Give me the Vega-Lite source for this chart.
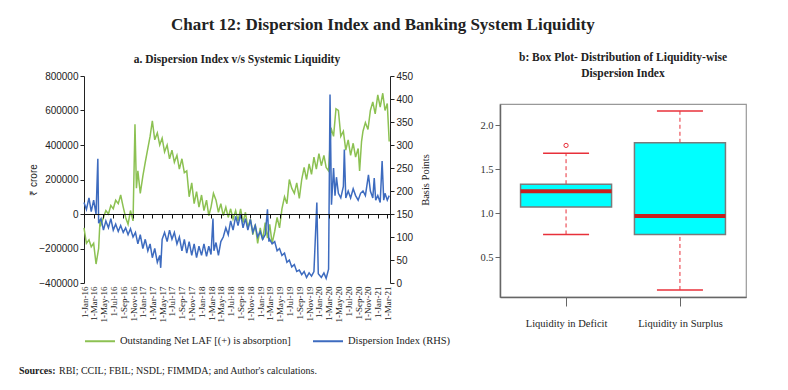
{
  "$schema": "https://vega.github.io/schema/vega-lite/v6.json",
  "background": "white",
  "padding": {"left": 19, "top": 16, "right": 8, "bottom": 4},
  "title": {"text": "Chart 12: Dispersion Index and Banking System Liquidity", "font": "Liberation Serif", "fontSize": 17, "fontWeight": "bold", "color": "#222", "offset": 18, "anchor": "middle", "frame": "bounds"},
  "datasets": {
    "laf": [
      {"d":"2016-01-01","v":-80000},{"d":"2016-01-16","v":-170000},{"d":"2016-02-01","v":-150000},{"d":"2016-02-15","v":-190000},
      {"d":"2016-03-01","v":-170000},{"d":"2016-03-16","v":-290000},{"d":"2016-04-01","v":-200000},{"d":"2016-04-10","v":-30000},
      {"d":"2016-04-16","v":-60000},{"d":"2016-05-01","v":-20000},{"d":"2016-05-16","v":20000},{"d":"2016-06-01","v":0},
      {"d":"2016-06-16","v":50000},{"d":"2016-07-01","v":30000},{"d":"2016-07-16","v":80000},{"d":"2016-08-01","v":60000},
      {"d":"2016-08-16","v":110000},{"d":"2016-09-01","v":40000},{"d":"2016-09-16","v":-20000},{"d":"2016-10-01","v":-60000},
      {"d":"2016-10-16","v":20000},{"d":"2016-11-01","v":-40000},{"d":"2016-11-13","v":520000},{"d":"2016-11-22","v":150000},
      {"d":"2016-12-01","v":250000},{"d":"2016-12-16","v":120000},{"d":"2017-01-01","v":220000},{"d":"2017-01-16","v":300000},
      {"d":"2017-02-01","v":380000},{"d":"2017-02-15","v":450000},{"d":"2017-03-01","v":540000},{"d":"2017-03-16","v":430000},
      {"d":"2017-04-01","v":470000},{"d":"2017-04-16","v":400000},{"d":"2017-05-01","v":440000},{"d":"2017-05-16","v":360000},
      {"d":"2017-06-01","v":400000},{"d":"2017-06-16","v":320000},{"d":"2017-07-01","v":370000},{"d":"2017-07-16","v":300000},
      {"d":"2017-08-01","v":340000},{"d":"2017-08-16","v":260000},{"d":"2017-09-01","v":320000},{"d":"2017-09-16","v":240000},
      {"d":"2017-10-01","v":250000},{"d":"2017-10-16","v":100000},{"d":"2017-11-01","v":180000},{"d":"2017-11-16","v":60000},
      {"d":"2017-12-01","v":130000},{"d":"2017-12-16","v":40000},{"d":"2018-01-01","v":110000},{"d":"2018-01-16","v":20000},
      {"d":"2018-02-01","v":80000},{"d":"2018-02-15","v":-10000},{"d":"2018-03-01","v":40000},{"d":"2018-03-16","v":120000},
      {"d":"2018-04-01","v":80000},{"d":"2018-04-16","v":10000},{"d":"2018-05-01","v":60000},{"d":"2018-05-16","v":-10000},
      {"d":"2018-06-01","v":40000},{"d":"2018-06-16","v":-20000},{"d":"2018-07-01","v":30000},{"d":"2018-07-16","v":-30000},
      {"d":"2018-08-01","v":20000},{"d":"2018-08-16","v":-40000},{"d":"2018-09-01","v":30000},{"d":"2018-09-16","v":-50000},
      {"d":"2018-10-01","v":10000},{"d":"2018-10-16","v":-80000},{"d":"2018-11-01","v":-30000},{"d":"2018-11-16","v":-120000},
      {"d":"2018-12-01","v":-60000},{"d":"2018-12-16","v":-170000},{"d":"2019-01-01","v":-80000},{"d":"2019-01-16","v":-150000},
      {"d":"2019-02-01","v":-50000},{"d":"2019-02-15","v":-140000},{"d":"2019-03-01","v":-60000},{"d":"2019-03-16","v":-170000},
      {"d":"2019-04-01","v":-100000},{"d":"2019-04-16","v":-20000},{"d":"2019-05-01","v":-80000},{"d":"2019-05-16","v":30000},
      {"d":"2019-06-01","v":100000},{"d":"2019-06-16","v":60000},{"d":"2019-07-01","v":200000},{"d":"2019-07-16","v":150000},
      {"d":"2019-08-01","v":120000},{"d":"2019-08-16","v":180000},{"d":"2019-09-01","v":90000},{"d":"2019-09-16","v":200000},
      {"d":"2019-10-01","v":270000},{"d":"2019-10-16","v":200000},{"d":"2019-11-01","v":290000},{"d":"2019-11-16","v":230000},
      {"d":"2019-12-01","v":330000},{"d":"2019-12-16","v":260000},{"d":"2020-01-01","v":350000},{"d":"2020-01-16","v":280000},
      {"d":"2020-02-01","v":340000},{"d":"2020-02-15","v":270000},{"d":"2020-03-01","v":250000},{"d":"2020-03-16","v":500000},
      {"d":"2020-04-01","v":450000},{"d":"2020-04-16","v":610000},{"d":"2020-05-01","v":600000},{"d":"2020-05-16","v":450000},
      {"d":"2020-06-01","v":480000},{"d":"2020-06-16","v":370000},{"d":"2020-07-01","v":430000},{"d":"2020-07-16","v":340000},
      {"d":"2020-08-01","v":410000},{"d":"2020-08-16","v":330000},{"d":"2020-09-01","v":380000},{"d":"2020-09-10","v":250000},
      {"d":"2020-09-22","v":420000},{"d":"2020-10-01","v":480000},{"d":"2020-10-16","v":530000},{"d":"2020-11-01","v":490000},
      {"d":"2020-11-16","v":600000},{"d":"2020-12-01","v":650000},{"d":"2020-12-16","v":580000},{"d":"2021-01-01","v":690000},
      {"d":"2021-01-16","v":620000},{"d":"2021-02-01","v":700000},{"d":"2021-02-15","v":600000},{"d":"2021-03-01","v":640000},
      {"d":"2021-03-13","v":420000}
    ],
    "di": [
      {"d":"2016-01-01","v":175},{"d":"2016-01-16","v":160},{"d":"2016-02-01","v":185},{"d":"2016-02-15","v":155},
      {"d":"2016-03-01","v":180},{"d":"2016-03-16","v":150},{"d":"2016-03-27","v":270},{"d":"2016-04-01","v":130},
      {"d":"2016-04-16","v":140},{"d":"2016-05-01","v":115},{"d":"2016-05-16","v":135},{"d":"2016-06-01","v":120},
      {"d":"2016-06-16","v":140},{"d":"2016-07-01","v":115},{"d":"2016-07-16","v":128},{"d":"2016-08-01","v":112},
      {"d":"2016-08-16","v":125},{"d":"2016-09-01","v":110},{"d":"2016-09-16","v":120},{"d":"2016-10-01","v":105},
      {"d":"2016-10-16","v":118},{"d":"2016-11-01","v":100},{"d":"2016-11-16","v":110},{"d":"2016-12-01","v":85},
      {"d":"2016-12-16","v":105},{"d":"2017-01-01","v":75},{"d":"2017-01-16","v":95},{"d":"2017-02-01","v":70},
      {"d":"2017-02-15","v":85},{"d":"2017-03-01","v":55},{"d":"2017-03-16","v":75},{"d":"2017-04-01","v":45},
      {"d":"2017-04-16","v":60},{"d":"2017-04-22","v":33},{"d":"2017-05-01","v":95},{"d":"2017-05-16","v":110},
      {"d":"2017-06-01","v":90},{"d":"2017-06-16","v":115},{"d":"2017-07-01","v":95},{"d":"2017-07-16","v":110},
      {"d":"2017-08-01","v":85},{"d":"2017-08-16","v":100},{"d":"2017-09-01","v":70},{"d":"2017-09-16","v":95},
      {"d":"2017-10-01","v":65},{"d":"2017-10-16","v":90},{"d":"2017-11-01","v":60},{"d":"2017-11-16","v":85},
      {"d":"2017-12-01","v":55},{"d":"2017-12-16","v":80},{"d":"2018-01-01","v":60},{"d":"2018-01-16","v":85},
      {"d":"2018-02-01","v":58},{"d":"2018-02-15","v":80},{"d":"2018-03-01","v":62},{"d":"2018-03-13","v":140},
      {"d":"2018-03-19","v":70},{"d":"2018-04-01","v":88},{"d":"2018-04-16","v":60},{"d":"2018-05-01","v":90},
      {"d":"2018-05-16","v":100},{"d":"2018-06-01","v":120},{"d":"2018-06-16","v":105},{"d":"2018-07-01","v":135},
      {"d":"2018-07-16","v":115},{"d":"2018-08-01","v":145},{"d":"2018-08-16","v":125},{"d":"2018-09-01","v":150},
      {"d":"2018-09-16","v":120},{"d":"2018-10-01","v":140},{"d":"2018-10-16","v":115},{"d":"2018-11-01","v":138},
      {"d":"2018-11-16","v":110},{"d":"2018-12-01","v":125},{"d":"2018-12-16","v":100},{"d":"2019-01-01","v":112},
      {"d":"2019-01-16","v":95},{"d":"2019-02-01","v":105},{"d":"2019-02-15","v":160},{"d":"2019-02-24","v":90},
      {"d":"2019-03-01","v":95},{"d":"2019-03-16","v":85},{"d":"2019-04-01","v":90},{"d":"2019-04-16","v":70},
      {"d":"2019-05-01","v":75},{"d":"2019-05-16","v":60},{"d":"2019-06-01","v":65},{"d":"2019-06-16","v":45},
      {"d":"2019-07-01","v":50},{"d":"2019-07-16","v":35},{"d":"2019-08-01","v":40},{"d":"2019-08-16","v":25},
      {"d":"2019-09-01","v":28},{"d":"2019-09-16","v":18},{"d":"2019-10-01","v":25},{"d":"2019-10-16","v":12},
      {"d":"2019-11-01","v":22},{"d":"2019-11-16","v":15},{"d":"2019-12-01","v":25},{"d":"2019-12-19","v":175},
      {"d":"2019-12-28","v":20},{"d":"2020-01-16","v":12},{"d":"2020-02-01","v":22},{"d":"2020-02-15","v":10},
      {"d":"2020-03-01","v":30},{"d":"2020-03-10","v":410},{"d":"2020-03-19","v":170},{"d":"2020-04-01","v":250},
      {"d":"2020-04-10","v":190},{"d":"2020-04-19","v":230},{"d":"2020-05-01","v":195},{"d":"2020-05-16","v":185},
      {"d":"2020-06-01","v":210},{"d":"2020-06-07","v":290},{"d":"2020-06-16","v":185},{"d":"2020-07-01","v":200},
      {"d":"2020-07-16","v":185},{"d":"2020-08-01","v":205},{"d":"2020-08-16","v":190},{"d":"2020-09-01","v":180},
      {"d":"2020-09-16","v":195},{"d":"2020-10-01","v":200},{"d":"2020-10-16","v":190},{"d":"2020-11-04","v":235},
      {"d":"2020-11-16","v":200},{"d":"2020-12-01","v":185},{"d":"2020-12-10","v":228},{"d":"2020-12-19","v":180},
      {"d":"2021-01-01","v":190},{"d":"2021-01-16","v":175},{"d":"2021-01-28","v":265},{"d":"2021-02-07","v":180},
      {"d":"2021-02-15","v":195},{"d":"2021-03-01","v":180},{"d":"2021-03-13","v":190}
    ],
    "box": [
      {"cat":"Liquidity in Deficit","lo":0.76,"q1":1.07,"med":1.25,"q3":1.33,"hi":1.68,"out":1.77},
      {"cat":"Liquidity in Surplus","lo":0.13,"q1":0.76,"med":0.97,"q3":1.80,"hi":2.16,"out":null}
    ],
    "src": [{"k":1}]
  },
  "spacing": 19,
  "resolve": {"scale": {"color": "independent"}, "legend": {"color": "independent"}},
  "vconcat": [
    {
      "spacing": 28,
      "resolve": {"scale": {"color": "independent"}, "legend": {"color": "independent"}},
      "hconcat": [
        {
          "width": 306,
          "height": 207,
          "title": {"text": "a. Dispersion Index v/s Systemic Liquidity", "font": "Liberation Serif", "fontSize": 11.5, "fontWeight": "bold", "color": "#222", "offset": 6},
          "layer": [
            {
              "data": {"name": "laf"},
              "mark": {"type": "line", "strokeWidth": 1.5, "invalid": "filter"},
              "encoding": {
                "x": {"field": "d", "type": "temporal",
                  "scale": {"domain": [{"year": 2016, "month": 1, "date": 1}, {"year": 2021, "month": 3, "date": 18}], "nice": false},
                  "axis": {"orient": "bottom", "title": null, "domain": false, "ticks": false, "grid": false, "labelAngle": 270, "format": "%-d-%b-%y", "tickCount": {"interval": "month", "step": 2}, "labelFont": "Liberation Serif", "labelFontSize": 9, "labelColor": "#222", "labelPadding": 3, "labelOverlap": false, "labelBound": false, "labelFlush": false}},
                "y": {"field": "v", "type": "quantitative",
                  "scale": {"domain": [-400000, 800000], "nice": false, "zero": false},
                  "axis": {"orient": "left", "values": [-400000, -200000, 0, 200000, 400000, 600000, 800000], "format": "d", "grid": false, "tickSize": 4, "domainColor": "#222", "tickColor": "#222", "labelFont": "Liberation Sans", "labelFontSize": 10, "labelColor": "#222", "title": "₹ crore", "titleFont": "Liberation Sans", "titleFontSize": 10, "titleFontWeight": "normal", "titleColor": "#222", "titlePadding": 0}},
                "color": {"datum": "Outstanding Net LAF [(+) is absorption]",
                  "scale": {"domain": ["Outstanding Net LAF [(+) is absorption]", "Dispersion Index (RHS)"], "range": ["#8cc152", "#3d6bbf"]},
                  "legend": {"orient": "bottom", "direction": "horizontal", "title": null, "symbolType": "stroke", "symbolSize": 900, "symbolStrokeWidth": 2, "labelFont": "Liberation Serif", "labelFontSize": 10.5, "labelColor": "#222", "labelLimit": 0, "columnPadding": 18, "offset": 3}}
              }
            },
            {
              "data": {"name": "di"},
              "mark": {"type": "line", "strokeWidth": 1.5, "invalid": "filter"},
              "encoding": {
                "x": {"field": "d", "type": "temporal",
                  "axis": {"orient": "bottom", "offset": -69, "title": null, "labels": false, "domain": true, "ticks": true, "tickSize": 4, "domainColor": "#111", "tickColor": "#111", "grid": false, "tickCount": {"interval": "month", "step": 2}, "zindex": 1}},
                "y": {"field": "v", "type": "quantitative",
                  "scale": {"domain": [0, 450], "nice": false},
                  "axis": {"orient": "right", "values": [0, 50, 100, 150, 200, 250, 300, 350, 400, 450], "grid": false, "tickSize": 4, "domainColor": "#222", "tickColor": "#222", "labelFont": "Liberation Sans", "labelFontSize": 10, "labelColor": "#222", "title": "Basis Points", "titleAngle": 270, "titleBaseline": "top", "titleFont": "Liberation Serif", "titleFontSize": 10.5, "titleFontWeight": "normal", "titleColor": "#222", "titlePadding": 8}},
                "color": {"datum": "Dispersion Index (RHS)"}
              }
            }
          ],
          "resolve": {"scale": {"y": "independent"}, "axis": {"x": "independent", "y": "independent"}}
        },
        {
          "spacing": 21,
          "vconcat": [
            {
              "width": 246,
              "height": 1,
              "view": {"stroke": null},
              "title": {"text": ["b: Box Plot- Distribution of Liquidity-wise", "Dispersion Index"], "font": "Liberation Serif", "fontSize": 11.5, "fontWeight": "bold", "color": "#222", "offset": -9, "lineHeight": 16},
              "data": {"name": "src"},
              "mark": {"type": "text", "text": ""},
              "encoding": {}
            },
            {
              "width": 246,
              "height": 193,
              "view": {"stroke": "#999", "strokeWidth": 1.2},
              "data": {"name": "box"},
              "encoding": {
                "x": {"field": "cat", "type": "nominal", "scale": {"type": "point", "padding": 0.58},
                  "axis": {"title": null, "labelAngle": 0, "domain": true, "domainColor": "#666", "domainWidth": 1.5, "ticks": true, "tickSize": 9, "tickColor": "#666", "labelFont": "Liberation Serif", "labelFontSize": 10.5, "labelColor": "#222", "labelPadding": 12, "grid": false}}
              },
              "layer": [
                {
                  "mark": {"type": "rule", "color": "#e8303a", "strokeDash": [4, 3], "strokeWidth": 1, "opacity": 1},
                  "encoding": {
                    "y": {"field": "q3", "type": "quantitative", "scale": {"domain": [0.05, 2.24], "nice": false, "zero": false},
                      "axis": {"title": null, "values": [0.5, 1, 1.5, 2], "format": ".1f", "grid": false, "domain": true, "domainColor": "#666", "domainWidth": 1.5, "tickSize": 5, "tickColor": "#666", "labelFont": "Liberation Serif", "labelFontSize": 10.5, "labelColor": "#333"}},
                    "y2": {"field": "hi"}
                  }
                },
                {
                  "mark": {"type": "rule", "color": "#e8303a", "strokeDash": [4, 3], "strokeWidth": 1, "opacity": 1},
                  "encoding": {"y": {"field": "lo", "type": "quantitative"}, "y2": {"field": "q1"}}
                },
                {
                  "mark": {"type": "tick", "color": "#e8303a", "size": 46, "thickness": 1.5, "opacity": 1},
                  "encoding": {"y": {"field": "hi", "type": "quantitative"}}
                },
                {
                  "mark": {"type": "tick", "color": "#e8303a", "size": 46, "thickness": 1.5, "opacity": 1},
                  "encoding": {"y": {"field": "lo", "type": "quantitative"}}
                },
                {
                  "mark": {"type": "bar", "fill": "#00ffff", "stroke": "#7a7a7a", "strokeWidth": 1.5, "size": 91, "opacity": 1},
                  "encoding": {"y": {"field": "q1", "type": "quantitative"}, "y2": {"field": "q3"}}
                },
                {
                  "mark": {"type": "tick", "color": "#c8201e", "size": 91, "thickness": 4, "opacity": 1},
                  "encoding": {"y": {"field": "med", "type": "quantitative"}}
                },
                {
                  "mark": {"type": "point", "shape": "circle", "filled": false, "color": "#e8303a", "size": 18, "strokeWidth": 1, "opacity": 1},
                  "encoding": {"y": {"field": "out", "type": "quantitative"}}
                }
              ]
            }
          ]
        }
      ]
    },
    {
      "width": 300,
      "height": 8,
      "view": {"stroke": null},
      "data": {"name": "src"},
      "encoding": {"x": {"datum": 0, "type": "quantitative", "scale": {"domain": [0, 1]}, "axis": null}},
      "layer": [
        {"mark": {"type": "text", "text": "Sources:", "font": "Liberation Serif", "fontSize": 10, "fontWeight": "bold", "align": "left", "dx": -65, "color": "#222"}},
        {"mark": {"type": "text", "text": "RBI; CCIL; FBIL; NSDL; FIMMDA; and Author's calculations.", "font": "Liberation Serif", "fontSize": 10, "align": "left", "dx": -25, "color": "#222"}}
      ]
    }
  ],
  "config": {"view": {"stroke": null}, "axis": {"grid": false}}
}
